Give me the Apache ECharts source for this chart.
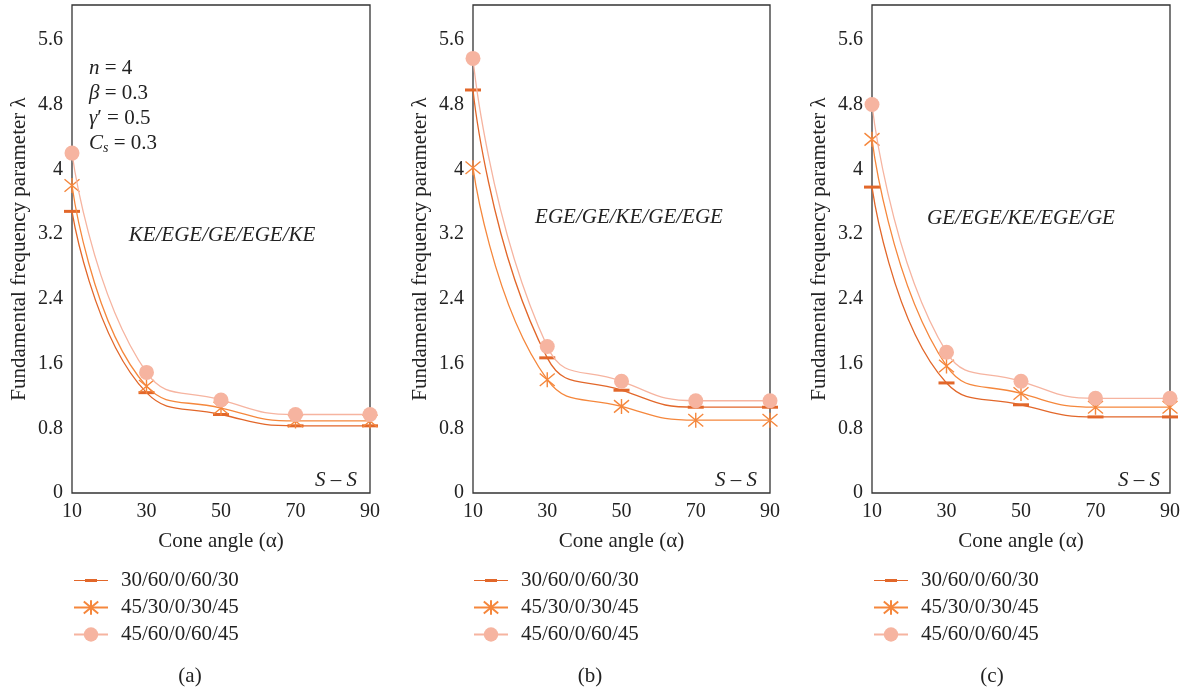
<!DOCTYPE html>
<html>
<head>
<meta charset="utf-8">
<script src="https://cdn.jsdelivr.net/npm/echarts@6/dist/echarts.min.js"></script>
<style>
html, body { margin: 0; padding: 0; background: #fff; }
#main { width: 1186px; height: 690px; }
</style>
</head>
<body>
<div id="main"></div>
<script>
// cone angles
var angles = ['10', '30', '50', '70', '90'];
var seriesNames = ['30/60/0/60/30', '45/30/0/30/45', '45/60/0/60/45'];
var yTicks = [0, 0.8, 1.6, 2.4, 3.2, 4, 4.8, 5.6];

// (a) KE/EGE/GE/EGE/KE
var a_30_60 = [3.48, 1.24, 0.97, 0.83, 0.83];
var a_45_30 = [3.80, 1.32, 1.05, 0.89, 0.89];
var a_45_60 = [4.20, 1.49, 1.15, 0.97, 0.97];
// (b) EGE/GE/KE/GE/EGE
var b_30_60 = [4.98, 1.67, 1.27, 1.06, 1.06];
var b_45_30 = [4.02, 1.40, 1.07, 0.90, 0.90];
var b_45_60 = [5.37, 1.81, 1.38, 1.14, 1.14];
// (c) GE/EGE/KE/EGE/GE
var c_30_60 = [3.78, 1.36, 1.09, 0.94, 0.94];
var c_45_30 = [4.37, 1.57, 1.23, 1.06, 1.06];
var c_45_60 = [4.80, 1.74, 1.38, 1.17, 1.17];

var font = 'Liberation Serif';
var cDash = '#e2672a', cStar = '#f5873c', cDot = '#f6b4a0';
var starPath = 'path://M0,0L10,10M10,0L0,10M5,-1L5,11';
// legend icon for the dash series: thin line with a short bar in the middle
var dashIcon = 'path://M0,8.4H34V9.6H0Z M11,7.4H23V10.6H11Z';

var grids = [
	{left: 72, top: 5, width: 298, height: 488},
	{left: 473, top: 5, width: 297, height: 488},
	{left: 872, top: 5, width: 298, height: 488}
];
var legendLeft = [68, 468, 868];
var panels = [
	[a_30_60, a_45_30, a_45_60],
	[b_30_60, b_45_30, b_45_60],
	[c_30_60, c_45_30, c_45_60]
];

var xAxis = [], yAxis = [], series = [], legend = [];
grids.forEach(function(g, i) {
	g.show = true;
	g.borderColor = '#333';
	g.borderWidth = 1.3;
	xAxis.push({
		type: 'category', gridIndex: i, data: angles, boundaryGap: false,
		name: 'Cone angle (α)', nameLocation: 'middle', nameGap: 38,
		nameTextStyle: {fontFamily: font, fontSize: 21, color: '#222'},
		axisLine: {show: false}, axisTick: {show: false},
		axisLabel: {fontFamily: font, fontSize: 20, color: '#222', margin: 9}
	});
	yAxis.push({
		type: 'value', gridIndex: i, min: 0, max: 6.03, interval: 0.8,
		name: 'Fundamental frequency parameter λ', nameLocation: 'middle', nameGap: 42,
		nameTextStyle: {fontFamily: font, fontSize: 21, color: '#222'},
		axisLine: {show: false}, axisTick: {show: false}, splitLine: {show: false},
		axisLabel: {fontFamily: font, fontSize: 20, color: '#222', margin: 9, showMaxLabel: false,
			formatter: function(v) {
				var r = Math.round(v * 10) / 10;
				return yTicks.indexOf(r) >= 0 ? String(r) : '';
			}}
	});
	var d = panels[i];
	series.push({
		name: seriesNames[0], type: 'line', xAxisIndex: i, yAxisIndex: i, data: d[0], smooth: 0.5,
		symbol: 'rect', symbolSize: [16, 3],
		lineStyle: {color: cDash, width: 1.3}, itemStyle: {color: cDash}, z: 3
	});
	series.push({
		name: seriesNames[1], type: 'line', xAxisIndex: i, yAxisIndex: i, data: d[1], smooth: 0.5,
		symbol: starPath, symbolSize: 15,
		lineStyle: {color: cStar, width: 1.3},
		itemStyle: {color: 'rgba(0,0,0,0)', borderColor: cStar, borderWidth: 1.4}, z: 4
	});
	series.push({
		name: seriesNames[2], type: 'line', xAxisIndex: i, yAxisIndex: i, data: d[2], smooth: 0.5,
		symbol: 'circle', symbolSize: 15,
		lineStyle: {color: cDot, width: 1.3}, itemStyle: {color: cDot}, z: 5
	});
	legend.push({
		data: [
			{name: seriesNames[0], icon: dashIcon},
			{name: seriesNames[1]},
			{name: seriesNames[2]}
		],
		orient: 'vertical', left: legendLeft[i], top: 565,
		itemWidth: 34, itemHeight: 18, itemGap: 6,
		textStyle: {fontFamily: font, fontSize: 21, color: '#222', lineHeight: 18, padding: [0, 0, 0, 8]},
		selectedMode: false
	});
});

function txt(x, y, text, align) {
	var s = {text: text, x: x, y: y, font: '21px "' + font + '"', fill: '#222',
		align: align || 'left', verticalAlign: 'middle',
		rich: {
			i: {fontFamily: font, fontSize: 21, fontStyle: 'italic', fill: '#222'},
			s: {fontFamily: font, fontSize: 14, fontStyle: 'italic', fill: '#222', padding: [10, 0, 0, 0]}
		}};
	return {type: 'text', style: s};
}

var graphic = [
	txt(89, 68, '{i|n} = 4'),
	txt(89, 93, '{i|β} = 0.3'),
	txt(89, 118, '{i|γ}′ = 0.5'),
	txt(89, 143, '{i|C}{s|s} = 0.3'),
	txt(222, 235, '{i|KE/EGE/GE/EGE/KE}', 'center'),
	txt(629, 217, '{i|EGE/GE/KE/GE/EGE}', 'center'),
	txt(1021, 218, '{i|GE/EGE/KE/EGE/GE}', 'center'),
	txt(357, 480, '{i|S} – {i|S}', 'right'),
	txt(757, 480, '{i|S} – {i|S}', 'right'),
	txt(1160, 480, '{i|S} – {i|S}', 'right'),
	txt(190, 676, '(a)', 'center'),
	txt(590, 676, '(b)', 'center'),
	txt(992, 676, '(c)', 'center')
];

var myChart = echarts.init(document.getElementById('main'));
myChart.setOption({
	animation: false,
	grid: grids,
	xAxis: xAxis,
	yAxis: yAxis,
	legend: legend,
	series: series,
	graphic: graphic
});
</script>
</body>
</html>
